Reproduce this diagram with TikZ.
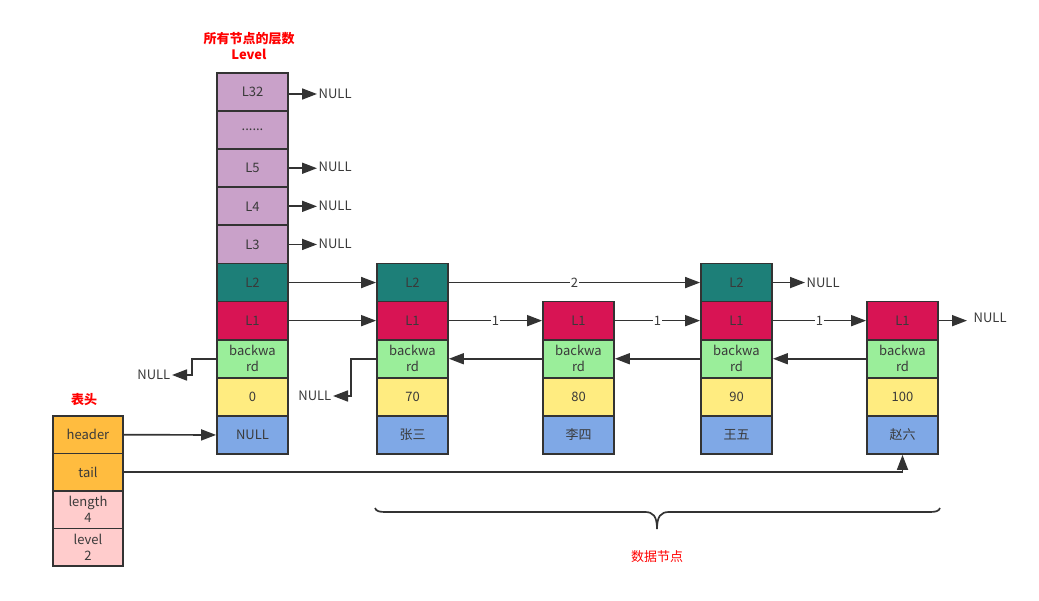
\documentclass[tikz,border=0pt]{standalone}
\usepackage{fontspec}
\setmainfont{Noto Sans CJK SC}
\usetikzlibrary{arrows.meta}
\definecolor{lc}{HTML}{333333}
\definecolor{ctext}{HTML}{3A3A3A}
\definecolor{cpurple}{HTML}{C9A1C9}
\definecolor{cteal}{HTML}{1D7F78}
\definecolor{ccrim}{HTML}{D81454}
\definecolor{cgreen}{HTML}{9AEE9A}
\definecolor{cyellow}{HTML}{FFEC80}
\definecolor{cblue}{HTML}{7FA8E6}
\definecolor{corange}{HTML}{FFBC3F}
\definecolor{cpink}{HTML}{FFCCCC}
\definecolor{cred}{HTML}{FF0000}
\tikzset{
  cell/.style={draw=lc, line width=1.8pt, minimum width=71pt, minimum height=38.1pt,
    inner sep=0pt, text=ctext, font=\fontsize{13}{16}\selectfont, align=center},
  tcell/.style={cell, minimum width=70pt, minimum height=37.5pt},
  arr/.style={draw=lc, line width=1.7pt, -{Triangle[length=15pt,width=11pt]}},
  nulltxt/.style={text=ctext, font=\fontsize{13}{15}\selectfont, inner sep=1.5pt},
  elab/.style={fill=white, inner sep=1pt, text=ctext, font=\fontsize{13}{15}\selectfont},
  redlab/.style={text=cred, font=\fontsize{13}{16}\selectfont\bfseries, align=center},
  redlabn/.style={text=cred, font=\fontsize{13}{16}\selectfont, align=center},
  bracepath/.style={draw=lc, line width=1.7pt}
}
\begin{document}
\begin{tikzpicture}[x=1pt,y=-1pt]
\path[use as bounding box] (0,0) rectangle (1039,601);

% header column
\node[cell, fill=cpurple] (h32) at (252.5,92.05) {L32};
\node[cell, fill=cpurple] (hdots) at (252.5,130.15) {......};
\node[cell, fill=cpurple] (h5) at (252.5,168.25) {L5};
\node[cell, fill=cpurple] (h4) at (252.5,206.35) {L4};
\node[cell, fill=cpurple] (h3) at (252.5,244.45) {L3};
\node[cell, fill=cteal] (h2) at (252.5,282.55) {L2};
\node[cell, fill=ccrim] (h1) at (252.5,320.65) {L1};
\node[cell, fill=cgreen] (hb) at (252.5,358.75) {backwa\\rd};
\node[cell, fill=cyellow] (hv) at (252.5,396.85) {0};
\node[cell, fill=cblue] (hn) at (252.5,434.95) {NULL};

% node 1
\node[cell, fill=cteal] (a2) at (412.5,282.55) {L2};
\node[cell, fill=ccrim] (a1) at (412.5,320.65) {L1};
\node[cell, fill=cgreen] (ab) at (412.5,358.75) {backwa\\rd};
\node[cell, fill=cyellow] (av) at (412.5,396.85) {70};
\node[cell, fill=cblue] (an) at (412.5,434.95) {张三};

% node 2
\node[cell, fill=ccrim] (b1) at (578.5,320.65) {L1};
\node[cell, fill=cgreen] (bb) at (578.5,358.75) {backwa\\rd};
\node[cell, fill=cyellow] (bv) at (578.5,396.85) {80};
\node[cell, fill=cblue] (bn) at (578.5,434.95) {李四};

% node 3
\node[cell, fill=cteal] (c2) at (736.5,282.55) {L2};
\node[cell, fill=ccrim] (c1) at (736.5,320.65) {L1};
\node[cell, fill=cgreen] (cb) at (736.5,358.75) {backwa\\rd};
\node[cell, fill=cyellow] (cv) at (736.5,396.85) {90};
\node[cell, fill=cblue] (cn) at (736.5,434.95) {王五};

% node 4
\node[cell, fill=ccrim] (d1) at (902.5,320.65) {L1};
\node[cell, fill=cgreen] (db) at (902.5,358.75) {backwa\\rd};
\node[cell, fill=cyellow] (dv) at (902.5,396.85) {100};
\node[cell, fill=cblue] (dn) at (902.5,434.95) {赵六};

% list header table
\node[tcell, fill=corange] (thd) at (88,434.75) {header};
\node[tcell, fill=corange] (ttl) at (88,472.25) {tail};
\node[tcell, fill=cpink] (tlen) at (88,509.75) {length\\4};
\node[tcell, fill=cpink] (tlvl) at (88,547.25) {level\\2};

% NULL texts
\node[nulltxt, anchor=west] (n32) at (317,94) {NULL};
\node[nulltxt, anchor=west] (n5) at (317,166.5) {NULL};
\node[nulltxt, anchor=west] (n4) at (317,205.5) {NULL};
\node[nulltxt, anchor=west] (n3) at (317,243.5) {NULL};
\node[nulltxt, anchor=west] (nc2) at (805,282.55) {NULL};
\node[nulltxt, anchor=west] (nd1) at (972,318) {NULL};
\node[nulltxt, anchor=east] (nhb) at (172,375) {NULL};
\node[nulltxt, anchor=east] (nab) at (333,396) {NULL};

% arrows to NULL
\draw[arr] (h32.east |- n32.west) -- (n32.west);
\draw[arr] (h5.east) -- (n5.west |- h5.east);
\draw[arr] (h4.east) -- (n4.west |- h4.east);
\draw[arr] (h3.east) -- (n3.west |- h3.east);
\draw[arr] (c2.east) -- (nc2.west);
\draw[arr, shorten >=5pt] (d1.east) -- (nd1.west |- d1.east);
\draw[arr] (hb.west) -- ++(-24,0) |- (nhb.east);
\draw[arr] (ab.west) -- ++(-25,0) |- (nab.east);

% forward links
\draw[arr] (h2.east) -- (a2.west);
\draw[arr] (h1.east) -- (a1.west);
\draw[arr] (a2.east) -- node[elab] (e2) {2} (c2.west);
\draw[arr] (a1.east) -- node[elab] (e1a) {1} (b1.west);
\draw[arr] (b1.east) -- node[elab] (e1b) {1} (c1.west);
\draw[arr] (c1.east) -- node[elab] (e1c) {1} (d1.west);

% backward links
\draw[arr] (bb.west) -- (ab.east);
\draw[arr] (cb.west) -- (bb.east);
\draw[arr] (db.west) -- (cb.east);

% header / tail
\draw[arr] (thd.east) -- (hn.west);
\draw[arr] (ttl.east) -| (dn.south);

% labels
\node[redlab] (lvl) at (249,46) {所有节点的层数\\Level};
\node[redlab] (bt) at (84,400) {表头};
\node[redlabn] (sj) at (657,557) {数据节点};

% brace
\draw[bracepath] (375,508) .. controls (376,511) and (379,512) .. (385,512) -- (645,512)
  .. controls (653,512) and (657,516) .. (657,529)
  .. controls (657,516) and (661,512) .. (669,512) -- (930,512)
  .. controls (936,512) and (939,511) .. (940,508);
\end{tikzpicture}
\end{document}
